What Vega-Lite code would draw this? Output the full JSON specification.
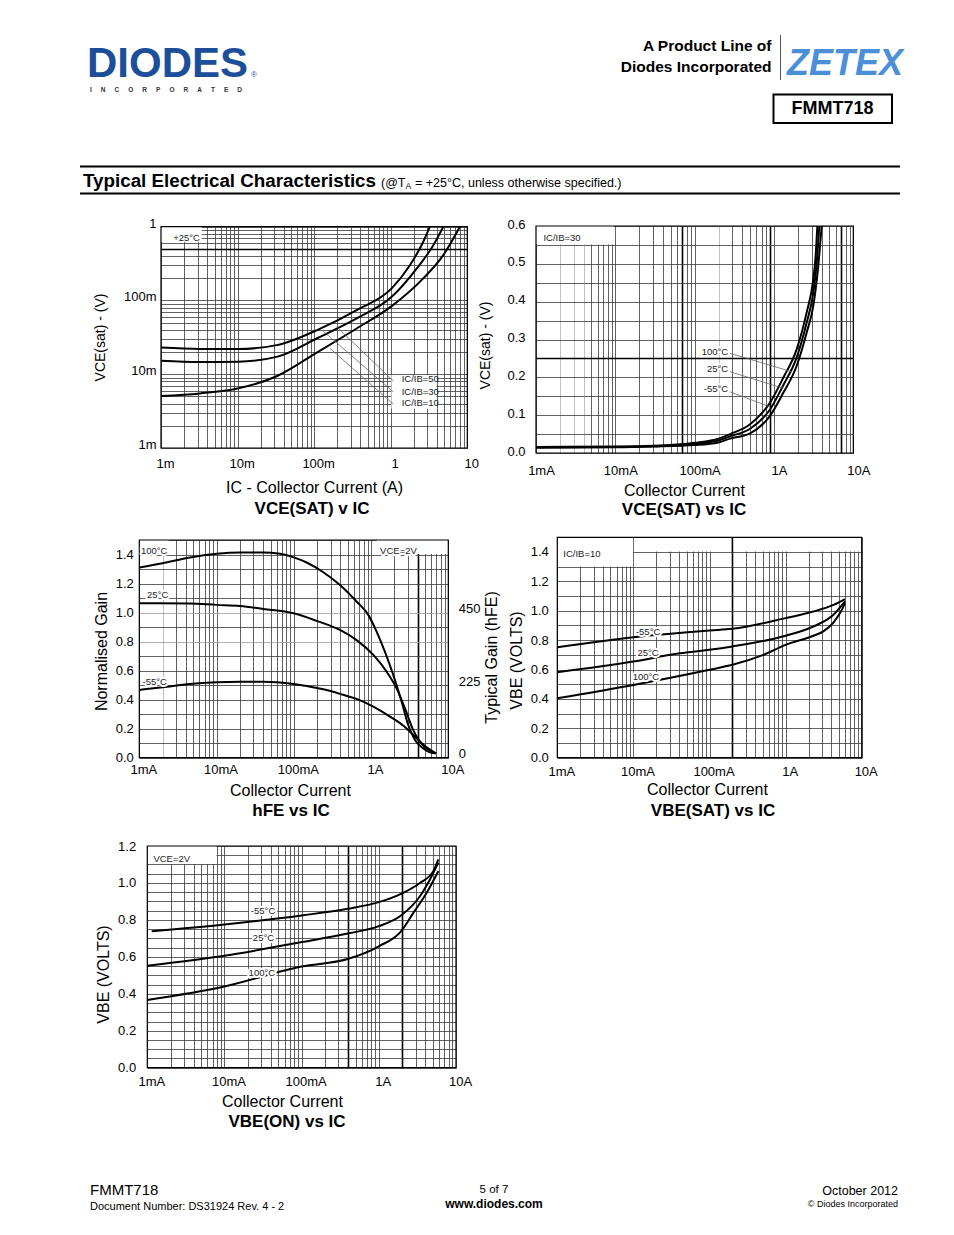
{
"$schema": "https://vega.github.io/schema/vega-lite/v6.json",
"width": 954, "height": 1235,
"autosize": {"type": "none"},
"padding": 0,
"background": "white",
"config": {
  "view": {"stroke": null},
  "font": "Liberation Sans",
  "axis": {"labelFont": "Liberation Sans", "titleFont": "Liberation Sans", "labelColor": "black", "titleColor": "black", "ticks": false, "domain": false, "gridColor": "#3a3a3a", "gridWidth": 0.8, "gridOpacity": 1, "labelOverlap": false, "labelFlush": false, "labelBound": false, "labelFontSize": 13, "titleFontSize": 16, "titleFontWeight": "normal", "titleBaseline": "middle", "titleAlign": "center"}
},
"data": {"values": [{}]},
"datasets": {
  "c1": [
    {"s":"50","I":0.001,"V":0.023},{"s":"50","I":0.00323,"V":0.022},{"s":"50","I":0.01,"V":0.022},{"s":"50","I":0.0324,"V":0.0248},{"s":"50","I":0.111,"V":0.040},{"s":"50","I":0.359,"V":0.074},{"s":"50","I":1.03,"V":0.146},{"s":"50","I":1.78,"V":0.30},{"s":"50","I":2.66,"V":0.625},{"s":"50","I":3.25,"V":1.0},
    {"s":"30","I":0.001,"V":0.0152},{"s":"30","I":0.00323,"V":0.0146},{"s":"30","I":0.01,"V":0.0148},{"s":"30","I":0.0324,"V":0.0172},{"s":"30","I":0.111,"V":0.031},{"s":"30","I":0.359,"V":0.057},{"s":"30","I":1.03,"V":0.112},{"s":"30","I":2.18,"V":0.27},{"s":"30","I":3.6,"V":0.56},{"s":"30","I":4.86,"V":1.0},
    {"s":"10","I":0.001,"V":0.00508},{"s":"10","I":0.00323,"V":0.0055},{"s":"10","I":0.01,"V":0.0064},{"s":"10","I":0.0324,"V":0.0094},{"s":"10","I":0.111,"V":0.020},{"s":"10","I":0.359,"V":0.0417},{"s":"10","I":1.03,"V":0.0838},{"s":"10","I":2.66,"V":0.199},{"s":"10","I":4.86,"V":0.412},{"s":"10","I":8.0,"V":1.0}
  ],
  "c2": [
    {"s":"100","I":0.001,"V":0.016},{"s":"100","I":0.01,"V":0.017},{"s":"100","I":0.03,"V":0.019},{"s":"100","I":0.1,"V":0.027},{"s":"100","I":0.2,"V":0.038},{"s":"100","I":0.28,"V":0.05},{"s":"100","I":0.5,"V":0.076},{"s":"100","I":0.89,"V":0.133},{"s":"100","I":1.31,"V":0.199},{"s":"100","I":1.93,"V":0.274},{"s":"100","I":2.58,"V":0.371},{"s":"100","I":3.13,"V":0.459},{"s":"100","I":3.35,"V":0.52},{"s":"100","I":3.52,"V":0.6},
    {"s":"25","I":0.001,"V":0.015},{"s":"25","I":0.01,"V":0.016},{"s":"25","I":0.03,"V":0.018},{"s":"25","I":0.1,"V":0.024},{"s":"25","I":0.2,"V":0.033},{"s":"25","I":0.28,"V":0.044},{"s":"25","I":0.5,"V":0.064},{"s":"25","I":0.89,"V":0.115},{"s":"25","I":1.31,"V":0.179},{"s":"25","I":1.93,"V":0.252},{"s":"25","I":2.58,"V":0.344},{"s":"25","I":3.13,"V":0.424},{"s":"25","I":3.45,"V":0.5},{"s":"25","I":3.73,"V":0.6},
    {"s":"-55","I":0.001,"V":0.014},{"s":"-55","I":0.01,"V":0.015},{"s":"-55","I":0.03,"V":0.017},{"s":"-55","I":0.1,"V":0.021},{"s":"-55","I":0.2,"V":0.028},{"s":"-55","I":0.28,"V":0.038},{"s":"-55","I":0.5,"V":0.052},{"s":"-55","I":0.89,"V":0.098},{"s":"-55","I":1.31,"V":0.159},{"s":"-55","I":1.93,"V":0.23},{"s":"-55","I":2.58,"V":0.318},{"s":"-55","I":3.13,"V":0.389},{"s":"-55","I":3.6,"V":0.49},{"s":"-55","I":3.99,"V":0.6}
  ],
  "c3": [
    {"s":"100","I":0.001,"V":1.31},{"s":"100","I":0.002,"V":1.34},{"s":"100","I":0.00453,"V":1.38},{"s":"100","I":0.01,"V":1.405},{"s":"100","I":0.0201,"V":1.414},{"s":"100","I":0.0403,"V":1.414},{"s":"100","I":0.0662,"V":1.405},{"s":"100","I":0.0995,"V":1.38},{"s":"100","I":0.1466,"V":1.345},{"s":"100","I":0.241,"V":1.278},{"s":"100","I":0.396,"V":1.19},{"s":"100","I":0.65,"V":1.076},{"s":"100","I":0.92,"V":0.984},{"s":"100","I":1.18,"V":0.869},{"s":"100","I":1.51,"V":0.731},{"s":"100","I":1.94,"V":0.57},{"s":"100","I":2.49,"V":0.386},{"s":"100","I":3.03,"V":0.225},{"s":"100","I":3.7,"V":0.122},{"s":"100","I":4.75,"V":0.064},{"s":"100","I":5.79,"V":0.037},{"s":"100","I":6.92,"V":0.03},
    {"s":"25","I":0.001,"V":1.064},{"s":"25","I":0.00453,"V":1.062},{"s":"25","I":0.01,"V":1.053},{"s":"25","I":0.0201,"V":1.046},{"s":"25","I":0.0403,"V":1.025},{"s":"25","I":0.0995,"V":0.995},{"s":"25","I":0.1977,"V":0.943},{"s":"25","I":0.396,"V":0.88},{"s":"25","I":0.65,"V":0.81},{"s":"25","I":1.07,"V":0.708},{"s":"25","I":1.59,"V":0.593},{"s":"25","I":2.14,"V":0.478},{"s":"25","I":2.75,"V":0.34},{"s":"25","I":3.52,"V":0.19},{"s":"25","I":4.3,"V":0.11},{"s":"25","I":5.24,"V":0.064},{"s":"25","I":6.92,"V":0.03},
    {"s":"-55","I":0.001,"V":0.467},{"s":"-55","I":0.002,"V":0.485},{"s":"-55","I":0.00453,"V":0.508},{"s":"-55","I":0.01,"V":0.52},{"s":"-55","I":0.0201,"V":0.524},{"s":"-55","I":0.0403,"V":0.524},{"s":"-55","I":0.0995,"V":0.508},{"s":"-55","I":0.241,"V":0.471},{"s":"-55","I":0.396,"V":0.44},{"s":"-55","I":0.65,"V":0.405},{"s":"-55","I":1.07,"V":0.352},{"s":"-55","I":1.76,"V":0.283},{"s":"-55","I":2.62,"V":0.22},{"s":"-55","I":3.35,"V":0.168},{"s":"-55","I":4.09,"V":0.122},{"s":"-55","I":5.24,"V":0.071},{"s":"-55","I":6.92,"V":0.03}
  ],
  "c4": [
    {"s":"-55","I":0.001,"V":0.752},{"s":"-55","I":0.01,"V":0.82},{"s":"-55","I":0.1,"V":0.866},{"s":"-55","I":0.2,"V":0.877},{"s":"-55","I":1.0,"V":0.95},{"s":"-55","I":2.32,"V":0.995},{"s":"-55","I":4.25,"V":1.04},{"s":"-55","I":6.04,"V":1.08},
    {"s":"25","I":0.001,"V":0.582},{"s":"25","I":0.01,"V":0.655},{"s":"25","I":0.041,"V":0.711},{"s":"25","I":0.1,"V":0.734},{"s":"25","I":0.2,"V":0.757},{"s":"25","I":1.0,"V":0.83},{"s":"25","I":2.32,"V":0.893},{"s":"25","I":4.25,"V":0.973},{"s":"25","I":6.04,"V":1.064},
    {"s":"100","I":0.001,"V":0.405},{"s":"100","I":0.01,"V":0.495},{"s":"100","I":0.1,"V":0.598},{"s":"100","I":0.2,"V":0.632},{"s":"100","I":0.51,"V":0.70},{"s":"100","I":1.0,"V":0.768},{"s":"100","I":2.32,"V":0.83},{"s":"100","I":3.13,"V":0.86},{"s":"100","I":4.25,"V":0.92},{"s":"100","I":5.19,"V":0.984},{"s":"100","I":6.04,"V":1.05}
  ],
  "c5": [
    {"s":"-55","I":0.00114,"V":0.738},{"s":"-55","I":0.01,"V":0.775},{"s":"-55","I":0.1,"V":0.824},{"s":"-55","I":0.394,"V":0.86},{"s":"-55","I":1.0,"V":0.896},{"s":"-55","I":1.94,"V":0.941},{"s":"-55","I":3.41,"V":1.0},{"s":"-55","I":5.08,"V":1.064},{"s":"-55","I":5.9,"V":1.128},
    {"s":"25","I":0.001,"V":0.552},{"s":"25","I":0.01,"V":0.606},{"s":"25","I":0.1,"V":0.68},{"s":"25","I":0.394,"V":0.726},{"s":"25","I":1.0,"V":0.766},{"s":"25","I":1.94,"V":0.824},{"s":"25","I":3.41,"V":0.928},{"s":"25","I":4.6,"V":1.019},{"s":"25","I":5.9,"V":1.11},
    {"s":"100","I":0.001,"V":0.367},{"s":"100","I":0.01,"V":0.44},{"s":"100","I":0.1,"V":0.548},{"s":"100","I":0.394,"V":0.588},{"s":"100","I":1.0,"V":0.657},{"s":"100","I":1.94,"V":0.738},{"s":"100","I":2.8,"V":0.838},{"s":"100","I":4.17,"V":0.947},{"s":"100","I":5.9,"V":1.064}
  ],
  "b1": [{"x1":0.001,"x2":0.0034,"y1":0.626,"y2":1},{"x1":1.02,"x2":3.97,"y1":0.0034,"y2":0.0098}],
  "b2": [{"x1":0.001,"x2":0.0095,"y1":0.551,"y2":0.6}],
  "b3": [{"x1":0.001,"x2":0.0024,"y1":1.403,"y2":1.5},{"x1":1.19,"x2":10,"y1":1.403,"y2":1.5}],
  "b4": [{"x1":0.001,"x2":0.0099,"y1":1.302,"y2":1.5},{"x1":0.0104,"x2":10,"y1":1.403,"y2":1.5}],
  "b5": [{"x1":0.001,"x2":0.0079,"y1":1.102,"y2":1.2}],
  "l1": [{"x1":0.197,"y1":0.044,"x2":1.08,"y2":0.0081},{"x1":0.131,"y1":0.0385,"x2":1.08,"y2":0.00577},{"x1":0.161,"y1":0.0224,"x2":1.08,"y2":0.00393}],
  "l2": [{"x1":0.278,"y1":0.2635,"x2":1.67,"y2":0.215},{"x1":0.278,"y1":0.215,"x2":1.31,"y2":0.171},{"x1":0.278,"y1":0.162,"x2":0.89,"y2":0.122}],
  "t1": [{"t":"+25°C","I":0.00144,"V":0.711},{"t":"IC/IB=50","I":1.39,"V":0.00857},{"t":"IC/IB=30","I":1.39,"V":0.00571},{"t":"IC/IB=10","I":1.39,"V":0.00405}],
  "t2L": [{"t":"IC/IB=30","I":0.00124,"V":0.567}],
  "t2R": [{"t":"100°C","I":0.265,"V":0.268},{"t":"25°C","I":0.265,"V":0.221},{"t":"-55°C","I":0.265,"V":0.169}],
  "t3": [{"t":"100°C","I":0.00105,"V":1.426},{"t":"25°C","I":0.00126,"V":1.121},{"t":"-55°C","I":0.0011,"V":0.524},{"t":"VCE=2V","I":1.31,"V":1.426}],
  "t4L": [{"t":"IC/IB=10","I":0.0012,"V":1.384}],
  "t4C": [{"t":"-55°C","I":0.0156,"V":0.855},{"t":"25°C","I":0.0156,"V":0.713},{"t":"100°C","I":0.0146,"V":0.549}],
  "t5L": [{"t":"VCE=2V","I":0.0012,"V":1.13}],
  "t5C": [{"t":"-55°C","I":0.0316,"V":0.85},{"t":"25°C","I":0.032,"V":0.704},{"t":"100°C","I":0.0305,"V":0.513}],
  "ext1": [{"I":0.001,"V":0.001},{"I":10,"V":1}],
  "ext2": [{"I":0.001,"V":0},{"I":10,"V":0.6}],
  "ext3": [{"I":0.001,"V":0},{"I":10,"V":1.5}],
  "ext5": [{"I":0.001,"V":0},{"I":10,"V":1.2}]
},
"resolve": {"scale": {"x": "independent", "y": "independent"}, "axis": {"x": "independent", "y": "independent"}},
"layer": [
  {"mark": {"type": "text", "text": "DIODES", "x": 87, "y": 77, "align": "left", "baseline": "alphabetic", "fontSize": 42, "fontWeight": "bold", "font": "Liberation Sans", "color": "#1c4e9a"}},
  {"mark": {"type": "text", "text": "®", "x": 251, "y": 77, "align": "left", "baseline": "alphabetic", "fontSize": 8, "color": "#1c4e9a"}},
  {"mark": {"type": "text", "text": "I\u00a0\u00a0\u00a0\u00a0\u00a0N\u00a0\u00a0\u00a0\u00a0\u00a0C\u00a0\u00a0\u00a0\u00a0\u00a0O\u00a0\u00a0\u00a0\u00a0\u00a0R\u00a0\u00a0\u00a0\u00a0\u00a0P\u00a0\u00a0\u00a0\u00a0\u00a0O\u00a0\u00a0\u00a0\u00a0\u00a0R\u00a0\u00a0\u00a0\u00a0\u00a0A\u00a0\u00a0\u00a0\u00a0\u00a0T\u00a0\u00a0\u00a0\u00a0\u00a0E\u00a0\u00a0\u00a0\u00a0\u00a0D", "x": 90, "y": 90, "align": "left", "baseline": "middle", "fontSize": 6.5, "fontWeight": "bold", "color": "#333"}},
  {"mark": {"type": "text", "text": "A Product Line of", "x": 771.5, "y": 51, "align": "right", "baseline": "alphabetic", "fontSize": 15.5, "fontWeight": "bold", "color": "black"}},
  {"mark": {"type": "text", "text": "Diodes Incorporated", "x": 771.5, "y": 72, "align": "right", "baseline": "alphabetic", "fontSize": 15.5, "fontWeight": "bold", "color": "black"}},
  {"mark": {"type": "rule", "color": "#555", "strokeWidth": 1}, "encoding": {"x": {"value": 780.5}, "y": {"value": 35}, "y2": {"value": 80}}},
  {"mark": {"type": "text", "text": "ZETEX", "x": 787, "y": 75, "align": "left", "baseline": "alphabetic", "fontSize": 36, "fontWeight": "bold", "fontStyle": "italic", "font": "Liberation Sans", "color": "#4b8fd8"}},
  {"mark": {"type": "rect", "fill": "white", "stroke": "black", "strokeWidth": 2}, "encoding": {"x": {"value": 773.5}, "x2": {"value": 892}, "y": {"value": 94.5}, "y2": {"value": 123}}},
  {"mark": {"type": "text", "text": "FMMT718", "x": 832.5, "y": 109, "align": "center", "baseline": "middle", "fontSize": 18, "fontWeight": "bold", "color": "black"}},
  {"mark": {"type": "rule", "color": "black", "strokeWidth": 2}, "encoding": {"x": {"value": 80}, "x2": {"value": 900}, "y": {"value": 166.5}}},
  {"mark": {"type": "rule", "color": "black", "strokeWidth": 2}, "encoding": {"x": {"value": 80}, "x2": {"value": 900}, "y": {"value": 193.5}}},
  {"mark": {"type": "text", "text": "Typical Electrical Characteristics", "x": 83, "y": 187, "align": "left", "baseline": "alphabetic", "fontSize": 18.8, "fontWeight": "bold", "color": "black"}},
  {"mark": {"type": "text", "text": "(@T", "x": 381, "y": 187, "align": "left", "baseline": "alphabetic", "fontSize": 12.5, "color": "black"}},
  {"mark": {"type": "text", "text": "A", "x": 405.5, "y": 189, "align": "left", "baseline": "alphabetic", "fontSize": 8.5, "color": "black"}},
  {"mark": {"type": "text", "text": "= +25°C, unless otherwise specified.)", "x": 415, "y": 187, "align": "left", "baseline": "alphabetic", "fontSize": 12.5, "color": "black"}},
  {"mark": {"type": "text", "text": "FMMT718", "x": 90, "y": 1195, "align": "left", "baseline": "alphabetic", "fontSize": 15, "color": "black"}},
  {"mark": {"type": "text", "text": "Document Number:  DS31924 Rev. 4 - 2", "x": 90, "y": 1210, "align": "left", "baseline": "alphabetic", "fontSize": 11, "color": "black"}},
  {"mark": {"type": "text", "text": "5 of 7", "x": 494, "y": 1193, "align": "center", "baseline": "alphabetic", "fontSize": 11.5, "color": "black"}},
  {"mark": {"type": "text", "text": "www.diodes.com", "x": 494, "y": 1208, "align": "center", "baseline": "alphabetic", "fontSize": 12, "fontWeight": "bold", "color": "black"}},
  {"mark": {"type": "text", "text": "October 2012", "x": 898, "y": 1195, "align": "right", "baseline": "alphabetic", "fontSize": 12.5, "color": "black"}},
  {"mark": {"type": "text", "text": "© Diodes Incorporated", "x": 898, "y": 1207, "align": "right", "baseline": "alphabetic", "fontSize": 9, "color": "black"}},
  {"mark": {"type": "text", "text": "VCE(SAT) v IC", "x": 312, "y": 509, "align": "center", "baseline": "middle", "fontSize": 17, "fontWeight": "bold", "color": "black"}},
  {"mark": {"type": "text", "text": "VCE(SAT) vs IC", "x": 684, "y": 510, "align": "center", "baseline": "middle", "fontSize": 17, "fontWeight": "bold", "color": "black"}},
  {"mark": {"type": "text", "text": "hFE vs IC", "x": 291, "y": 811, "align": "center", "baseline": "middle", "fontSize": 17, "fontWeight": "bold", "color": "black"}},
  {"mark": {"type": "text", "text": "VBE(SAT) vs IC", "x": 713, "y": 811, "align": "center", "baseline": "middle", "fontSize": 17, "fontWeight": "bold", "color": "black"}},
  {"mark": {"type": "text", "text": "VBE(ON) vs IC", "x": 287, "y": 1122, "align": "center", "baseline": "middle", "fontSize": 17, "fontWeight": "bold", "color": "black"}},

  {"data": {"name": "ext1"}, "mark": {"type": "point", "opacity": 0},
   "encoding": {
     "x": {"field": "I", "type": "quantitative", "scale": {"type": "log", "domain": [0.001, 10], "range": [161, 467.3], "nice": false},
           "axis": {"orient": "top", "offset": -448, "grid": true, "values": [0.001,0.002,0.003,0.004,0.005,0.006,0.007,0.008,0.009,0.01,0.02,0.03,0.04,0.05,0.06,0.07,0.08,0.09,0.1,0.2,0.3,0.4,0.5,0.6,0.7,0.8,0.9,1,2,3,4,5,6,7,8,9,10],
                    "labelExpr": "datum.value === 0.001 ? '1m' : datum.value === 0.01 ? '10m' : datum.value === 0.1 ? '100m' : datum.value === 1 ? '1' : datum.value === 10 ? '10' : ''",
                    "labelPadding": -15, "labelOffset": 4, "labelBaseline": "middle", "labelAlign": "center",
                    "title": "IC - Collector Current (A)", "titleX": 314, "titleY": 39, "titleAngle": 0}},
     "y": {"field": "V", "type": "quantitative", "scale": {"type": "log", "domain": [0.001, 1], "range": [448, 226.7], "nice": false},
           "axis": {"orient": "left", "offset": -161, "grid": true, "values": [0.001,0.002,0.003,0.004,0.005,0.006,0.007,0.008,0.009,0.01,0.02,0.03,0.04,0.05,0.06,0.07,0.08,0.09,0.1,0.2,0.3,0.4,0.5,0.6,0.7,0.8,0.9,1],
                    "labelExpr": "datum.value === 0.001 ? '1m' : datum.value === 0.01 ? '10m' : datum.value === 0.1 ? '100m' : datum.value === 1 ? '1' : ''",
                    "labelPadding": 5, "labelOffset": -3.5,
                    "gridColor": {"condition": {"test": "datum.value === 0.5", "value": "black"}, "value": "#3a3a3a"},
                    "gridWidth": {"condition": {"test": "datum.value === 0.5", "value": 1.6}, "value": 0.8},
                    "title": "VCE(sat) - (V)", "titleX": -61, "titleY": 337, "titleAngle": -90, "titleFontSize": 14}}}},
  {"layer": [
    {"data": {"name": "c1"}, "mark": {"type": "line", "color": "black", "strokeWidth": 2, "interpolate": "monotone"},
     "encoding": {
       "x": {"field": "I", "type": "quantitative", "scale": {"type": "log", "domain": [0.001, 10], "range": [161, 467.3], "nice": false}, "axis": null},
       "y": {"field": "V", "type": "quantitative", "scale": {"type": "log", "domain": [0.001, 1], "range": [448, 226.7], "nice": false}, "axis": null},
       "detail": {"field": "s"}}},
    {"data": {"name": "b1"}, "mark": {"type": "rect", "fill": "white"},
     "encoding": {"x": {"field": "x1", "type": "quantitative", "scale": {"type": "log", "domain": [0.001, 10], "range": [161, 467.3], "nice": false}, "axis": null}, "x2": {"field": "x2"},
                  "y": {"field": "y1", "type": "quantitative", "scale": {"type": "log", "domain": [0.001, 1], "range": [448, 226.7], "nice": false}, "axis": null}, "y2": {"field": "y2"}}},
    {"mark": {"type": "rect", "fillOpacity": 0, "stroke": "black", "strokeWidth": 1.2},
     "encoding": {"x": {"datum": 0.001, "type": "quantitative", "scale": {"type": "log", "domain": [0.001, 10], "range": [161, 467.3], "nice": false}, "axis": null}, "x2": {"datum": 10},
                  "y": {"datum": 0.001, "type": "quantitative", "scale": {"type": "log", "domain": [0.001, 1], "range": [448, 226.7], "nice": false}, "axis": null}, "y2": {"datum": 1}}},
    {"data": {"name": "l1"}, "mark": {"type": "rule", "color": "#666", "strokeWidth": 0.8},
     "encoding": {"x": {"field": "x1", "type": "quantitative", "scale": {"type": "log", "domain": [0.001, 10], "range": [161, 467.3], "nice": false}, "axis": null}, "x2": {"field": "x2"},
                  "y": {"field": "y1", "type": "quantitative", "scale": {"type": "log", "domain": [0.001, 1], "range": [448, 226.7], "nice": false}, "axis": null}, "y2": {"field": "y2"}}},
    {"data": {"name": "t1"}, "mark": {"type": "text", "align": "left", "baseline": "middle", "fontSize": 9.5, "color": "#222"},
     "encoding": {"x": {"field": "I", "type": "quantitative", "scale": {"type": "log", "domain": [0.001, 10], "range": [161, 467.3], "nice": false}, "axis": null},
                  "y": {"field": "V", "type": "quantitative", "scale": {"type": "log", "domain": [0.001, 1], "range": [448, 226.7], "nice": false}, "axis": null},
                  "text": {"field": "t"}}}
  ]},

  {"data": {"name": "ext2"}, "mark": {"type": "point", "opacity": 0},
   "encoding": {
     "x": {"field": "I", "type": "quantitative", "scale": {"type": "log", "domain": [0.001, 10], "range": [536, 853.3], "nice": false},
           "axis": {"orient": "top", "offset": -453, "grid": true, "values": [0.001,0.002,0.003,0.004,0.005,0.006,0.007,0.008,0.009,0.01,0.02,0.03,0.04,0.05,0.06,0.07,0.08,0.09,0.1,0.2,0.3,0.4,0.5,0.6,0.7,0.8,0.9,1,2,3,4,5,6,7,8,9,10],
                    "labelExpr": "datum.value === 0.001 ? '1mA' : datum.value === 0.01 ? '10mA' : datum.value === 0.1 ? '100mA' : datum.value === 1 ? '1A' : datum.value === 10 ? '10A' : ''",
                    "labelPadding": -17, "labelOffset": 5, "labelBaseline": "middle", "labelAlign": "center",
                    "gridColor": {"condition": [{"test": "datum.value === 0.07 || datum.value === 0.9 || datum.value === 7", "value": "black"}, {"test": "datum.value === 0.002 || datum.value === 0.003 || datum.value === 0.004 || datum.value === 0.2", "value": "#b0b0b0"}], "value": "#3a3a3a"},
                    "gridWidth": {"condition": {"test": "datum.value === 0.07 || datum.value === 0.9 || datum.value === 7", "value": 1.6}, "value": 0.8},
                    "title": "Collector Current", "titleX": 684, "titleY": 37, "titleAngle": 0}},
     "y": {"field": "V", "type": "quantitative", "scale": {"type": "linear", "domain": [0, 0.6], "range": [453, 226], "nice": false, "zero": false},
           "axis": {"orient": "left", "offset": -536, "grid": true, "values": [0,0.05,0.1,0.15,0.2,0.25,0.3,0.35,0.4,0.45,0.5,0.55,0.6],
                    "labelExpr": "abs(datum.value * 10 - round(datum.value * 10)) < 0.001 ? format(datum.value, '.1f') : ''",
                    "labelPadding": 11, "labelOffset": -2,
                    "gridColor": {"condition": {"test": "datum.value === 0.25", "value": "black"}, "value": "#3a3a3a"},
                    "gridWidth": {"condition": {"test": "datum.value === 0.25", "value": 1.6}, "value": 0.8},
                    "title": "VCE(sat) - (V)", "titleX": -51, "titleY": 345, "titleAngle": -90, "titleFontSize": 14}}}},
  {"layer": [
    {"data": {"name": "c2"}, "mark": {"type": "line", "color": "black", "strokeWidth": 2, "interpolate": "monotone"},
     "encoding": {
       "x": {"field": "I", "type": "quantitative", "scale": {"type": "log", "domain": [0.001, 10], "range": [536, 853.3], "nice": false}, "axis": null},
       "y": {"field": "V", "type": "quantitative", "scale": {"type": "linear", "domain": [0, 0.6], "range": [453, 226], "nice": false, "zero": false}, "axis": null},
       "detail": {"field": "s"}}},
    {"data": {"name": "b2"}, "mark": {"type": "rect", "fill": "white"},
     "encoding": {"x": {"field": "x1", "type": "quantitative", "scale": {"type": "log", "domain": [0.001, 10], "range": [536, 853.3], "nice": false}, "axis": null}, "x2": {"field": "x2"},
                  "y": {"field": "y1", "type": "quantitative", "scale": {"type": "linear", "domain": [0, 0.6], "range": [453, 226], "nice": false, "zero": false}, "axis": null}, "y2": {"field": "y2"}}},
    {"mark": {"type": "rect", "fillOpacity": 0, "stroke": "black", "strokeWidth": 1.2},
     "encoding": {"x": {"datum": 0.001, "type": "quantitative", "scale": {"type": "log", "domain": [0.001, 10], "range": [536, 853.3], "nice": false}, "axis": null}, "x2": {"datum": 10},
                  "y": {"datum": 0, "type": "quantitative", "scale": {"type": "linear", "domain": [0, 0.6], "range": [453, 226], "nice": false, "zero": false}, "axis": null}, "y2": {"datum": 0.6}}},
    {"data": {"name": "l2"}, "mark": {"type": "rule", "color": "#666", "strokeWidth": 0.8},
     "encoding": {"x": {"field": "x1", "type": "quantitative", "scale": {"type": "log", "domain": [0.001, 10], "range": [536, 853.3], "nice": false}, "axis": null}, "x2": {"field": "x2"},
                  "y": {"field": "y1", "type": "quantitative", "scale": {"type": "linear", "domain": [0, 0.6], "range": [453, 226], "nice": false, "zero": false}, "axis": null}, "y2": {"field": "y2"}}},
    {"data": {"name": "t2L"}, "mark": {"type": "text", "align": "left", "baseline": "middle", "fontSize": 9.5, "color": "#222"},
     "encoding": {"x": {"field": "I", "type": "quantitative", "scale": {"type": "log", "domain": [0.001, 10], "range": [536, 853.3], "nice": false}, "axis": null},
                  "y": {"field": "V", "type": "quantitative", "scale": {"type": "linear", "domain": [0, 0.6], "range": [453, 226], "nice": false, "zero": false}, "axis": null},
                  "text": {"field": "t"}}},
    {"data": {"name": "t2R"}, "mark": {"type": "text", "align": "right", "baseline": "middle", "fontSize": 9.5, "fill": "white", "stroke": "white", "strokeWidth": 4, "strokeJoin": "round"},
     "encoding": {"x": {"field": "I", "type": "quantitative", "scale": {"type": "log", "domain": [0.001, 10], "range": [536, 853.3], "nice": false}, "axis": null},
                  "y": {"field": "V", "type": "quantitative", "scale": {"type": "linear", "domain": [0, 0.6], "range": [453, 226], "nice": false, "zero": false}, "axis": null},
                  "text": {"field": "t"}}},
    {"data": {"name": "t2R"}, "mark": {"type": "text", "align": "right", "baseline": "middle", "fontSize": 9.5, "color": "#222"},
     "encoding": {"x": {"field": "I", "type": "quantitative", "scale": {"type": "log", "domain": [0.001, 10], "range": [536, 853.3], "nice": false}, "axis": null},
                  "y": {"field": "V", "type": "quantitative", "scale": {"type": "linear", "domain": [0, 0.6], "range": [453, 226], "nice": false, "zero": false}, "axis": null},
                  "text": {"field": "t"}}}
  ]},

  {"data": {"name": "ext3"}, "mark": {"type": "point", "opacity": 0},
   "encoding": {
     "x": {"field": "I", "type": "quantitative", "scale": {"type": "log", "domain": [0.001, 10], "range": [139.3, 448.3], "nice": false},
           "axis": {"orient": "top", "offset": -757.7, "grid": true, "values": [0.001,0.002,0.003,0.004,0.005,0.006,0.007,0.008,0.009,0.01,0.02,0.03,0.04,0.05,0.06,0.07,0.08,0.09,0.1,0.2,0.3,0.4,0.5,0.6,0.7,0.8,0.9,1,2,3,4,5,6,7,8,9,10],
                    "labelExpr": "datum.value === 0.001 ? '1mA' : datum.value === 0.01 ? '10mA' : datum.value === 0.1 ? '100mA' : datum.value === 1 ? '1A' : datum.value === 10 ? '10A' : ''",
                    "labelPadding": -12, "labelOffset": 4, "labelBaseline": "middle", "labelAlign": "center",
                    "gridColor": {"condition": [{"test": "datum.value === 4", "value": "black"}, {"test": "datum.value === 0.002", "value": "#b0b0b0"}], "value": "#3a3a3a"},
                    "gridWidth": {"condition": {"test": "datum.value === 4", "value": 1.6}, "value": 0.8},
                    "title": "Collector Current", "titleX": 290, "titleY": 33, "titleAngle": 0}},
     "y": {"field": "V", "type": "quantitative", "scale": {"type": "linear", "domain": [0, 1.5], "range": [757.7, 540], "nice": false, "zero": false},
           "axis": {"orient": "left", "offset": -139.3, "grid": true, "values": [0,0.1,0.2,0.3,0.4,0.5,0.6,0.7,0.8,0.9,1,1.1,1.2,1.3,1.4,1.5],
                    "labelExpr": "abs(datum.value * 5 - round(datum.value * 5)) < 0.001 && datum.value < 1.45 ? format(datum.value, '.1f') : ''",
                    "labelPadding": 6, "labelOffset": 0,
                    "gridColor": {"condition": {"test": "datum.value === 1 || datum.value === 0.8", "value": "#9a9a9a"}, "value": "#3a3a3a"},
                    "title": "Normalised Gain", "titleX": -37.6, "titleY": 651, "titleAngle": -90}}}},
  {"layer": [
    {"data": {"name": "c3"}, "mark": {"type": "line", "color": "black", "strokeWidth": 2, "interpolate": "monotone"},
     "encoding": {
       "x": {"field": "I", "type": "quantitative", "scale": {"type": "log", "domain": [0.001, 10], "range": [139.3, 448.3], "nice": false}, "axis": null},
       "y": {"field": "V", "type": "quantitative", "scale": {"type": "linear", "domain": [0, 1.5], "range": [757.7, 540], "nice": false, "zero": false}, "axis": null},
       "detail": {"field": "s"}}},
    {"data": {"name": "b3"}, "mark": {"type": "rect", "fill": "white"},
     "encoding": {"x": {"field": "x1", "type": "quantitative", "scale": {"type": "log", "domain": [0.001, 10], "range": [139.3, 448.3], "nice": false}, "axis": null}, "x2": {"field": "x2"},
                  "y": {"field": "y1", "type": "quantitative", "scale": {"type": "linear", "domain": [0, 1.5], "range": [757.7, 540], "nice": false, "zero": false}, "axis": null}, "y2": {"field": "y2"}}},
    {"mark": {"type": "rect", "fillOpacity": 0, "stroke": "black", "strokeWidth": 1.2},
     "encoding": {"x": {"datum": 0.001, "type": "quantitative", "scale": {"type": "log", "domain": [0.001, 10], "range": [139.3, 448.3], "nice": false}, "axis": null}, "x2": {"datum": 10},
                  "y": {"datum": 0, "type": "quantitative", "scale": {"type": "linear", "domain": [0, 1.5], "range": [757.7, 540], "nice": false, "zero": false}, "axis": null}, "y2": {"datum": 1.5}}},
    {"data": {"name": "t3"}, "mark": {"type": "text", "align": "left", "baseline": "middle", "fontSize": 9.5, "fill": "white", "stroke": "white", "strokeWidth": 4, "strokeJoin": "round"},
     "encoding": {"x": {"field": "I", "type": "quantitative", "scale": {"type": "log", "domain": [0.001, 10], "range": [139.3, 448.3], "nice": false}, "axis": null},
                  "y": {"field": "V", "type": "quantitative", "scale": {"type": "linear", "domain": [0, 1.5], "range": [757.7, 540], "nice": false, "zero": false}, "axis": null},
                  "text": {"field": "t"}}},
    {"data": {"name": "t3"}, "mark": {"type": "text", "align": "left", "baseline": "middle", "fontSize": 9.5, "color": "#222"},
     "encoding": {"x": {"field": "I", "type": "quantitative", "scale": {"type": "log", "domain": [0.001, 10], "range": [139.3, 448.3], "nice": false}, "axis": null},
                  "y": {"field": "V", "type": "quantitative", "scale": {"type": "linear", "domain": [0, 1.5], "range": [757.7, 540], "nice": false, "zero": false}, "axis": null},
                  "text": {"field": "t"}}}
  ]},

  {"data": {"values": [{"hFE": 0}, {"hFE": 450}]},
   "mark": {"type": "point", "opacity": 0},
   "encoding": {"y": {"field": "hFE", "type": "quantitative", "scale": {"type": "linear", "domain": [0, 675], "range": [757.7, 540], "nice": false, "zero": false},
                      "axis": {"orient": "right", "offset": -505.7, "values": [0, 225, 450], "grid": false, "labelPadding": 10, "labelAlign": "left", "labelOffset": -4,
                               "title": "Typical Gain  (hFE)", "titleX": 42.7, "titleY": 657, "titleAngle": -90}}}},

  {"data": {"name": "ext3"}, "mark": {"type": "point", "opacity": 0},
   "encoding": {
     "x": {"field": "I", "type": "quantitative", "scale": {"type": "log", "domain": [0.001, 10], "range": [557.3, 861.7], "nice": false},
           "axis": {"orient": "top", "offset": -757.7, "grid": true, "values": [0.001,0.002,0.003,0.004,0.005,0.006,0.007,0.008,0.009,0.01,0.02,0.03,0.04,0.05,0.06,0.07,0.08,0.09,0.1,0.2,0.3,0.4,0.5,0.6,0.7,0.8,0.9,1,2,3,4,5,6,7,8,9,10],
                    "labelExpr": "datum.value === 0.001 ? '1mA' : datum.value === 0.01 ? '10mA' : datum.value === 0.1 ? '100mA' : datum.value === 1 ? '1A' : datum.value === 10 ? '10A' : ''",
                    "labelPadding": -14, "labelOffset": 4, "labelBaseline": "middle", "labelAlign": "center",
                    "gridColor": {"condition": {"test": "datum.value === 0.2", "value": "black"}, "value": "#3a3a3a"},
                    "gridWidth": {"condition": {"test": "datum.value === 0.2", "value": 1.6}, "value": 0.8},
                    "title": "Collector Current", "titleX": 707, "titleY": 31.6, "titleAngle": 0}},
     "y": {"field": "V", "type": "quantitative", "scale": {"type": "linear", "domain": [0, 1.5], "range": [757.7, 537.3], "nice": false, "zero": false},
           "axis": {"orient": "left", "offset": -557.3, "grid": true, "values": [0,0.1,0.2,0.3,0.4,0.5,0.6,0.7,0.8,0.9,1,1.1,1.2,1.3,1.4,1.5],
                    "labelExpr": "abs(datum.value * 5 - round(datum.value * 5)) < 0.001 && datum.value < 1.45 ? format(datum.value, '.1f') : ''",
                    "labelPadding": 9, "labelOffset": 0,
                    "title": "VBE  (VOLTS)", "titleX": -40.6, "titleY": 660, "titleAngle": -90}}}},
  {"layer": [
    {"data": {"name": "c4"}, "mark": {"type": "line", "color": "black", "strokeWidth": 2, "interpolate": "monotone"},
     "encoding": {
       "x": {"field": "I", "type": "quantitative", "scale": {"type": "log", "domain": [0.001, 10], "range": [557.3, 861.7], "nice": false}, "axis": null},
       "y": {"field": "V", "type": "quantitative", "scale": {"type": "linear", "domain": [0, 1.5], "range": [757.7, 537.3], "nice": false, "zero": false}, "axis": null},
       "detail": {"field": "s"}}},
    {"data": {"name": "b4"}, "mark": {"type": "rect", "fill": "white"},
     "encoding": {"x": {"field": "x1", "type": "quantitative", "scale": {"type": "log", "domain": [0.001, 10], "range": [557.3, 861.7], "nice": false}, "axis": null}, "x2": {"field": "x2"},
                  "y": {"field": "y1", "type": "quantitative", "scale": {"type": "linear", "domain": [0, 1.5], "range": [757.7, 537.3], "nice": false, "zero": false}, "axis": null}, "y2": {"field": "y2"}}},
    {"mark": {"type": "rule", "color": "black", "strokeWidth": 1.6},
     "encoding": {"x": {"datum": 0.2, "type": "quantitative", "scale": {"type": "log", "domain": [0.001, 10], "range": [557.3, 861.7], "nice": false}, "axis": null},
                  "y": {"datum": 1.4, "type": "quantitative", "scale": {"type": "linear", "domain": [0, 1.5], "range": [757.7, 537.3], "nice": false, "zero": false}, "axis": null}, "y2": {"datum": 1.5}}},
    {"mark": {"type": "rect", "fillOpacity": 0, "stroke": "black", "strokeWidth": 1.2},
     "encoding": {"x": {"datum": 0.001, "type": "quantitative", "scale": {"type": "log", "domain": [0.001, 10], "range": [557.3, 861.7], "nice": false}, "axis": null}, "x2": {"datum": 10},
                  "y": {"datum": 0, "type": "quantitative", "scale": {"type": "linear", "domain": [0, 1.5], "range": [757.7, 537.3], "nice": false, "zero": false}, "axis": null}, "y2": {"datum": 1.5}}},
    {"data": {"name": "t4L"}, "mark": {"type": "text", "align": "left", "baseline": "middle", "fontSize": 9.5, "color": "#222"},
     "encoding": {"x": {"field": "I", "type": "quantitative", "scale": {"type": "log", "domain": [0.001, 10], "range": [557.3, 861.7], "nice": false}, "axis": null},
                  "y": {"field": "V", "type": "quantitative", "scale": {"type": "linear", "domain": [0, 1.5], "range": [757.7, 537.3], "nice": false, "zero": false}, "axis": null},
                  "text": {"field": "t"}}},
    {"data": {"name": "t4C"}, "mark": {"type": "text", "align": "center", "baseline": "middle", "fontSize": 9.5, "fill": "white", "stroke": "white", "strokeWidth": 4, "strokeJoin": "round"},
     "encoding": {"x": {"field": "I", "type": "quantitative", "scale": {"type": "log", "domain": [0.001, 10], "range": [557.3, 861.7], "nice": false}, "axis": null},
                  "y": {"field": "V", "type": "quantitative", "scale": {"type": "linear", "domain": [0, 1.5], "range": [757.7, 537.3], "nice": false, "zero": false}, "axis": null},
                  "text": {"field": "t"}}},
    {"data": {"name": "t4C"}, "mark": {"type": "text", "align": "center", "baseline": "middle", "fontSize": 9.5, "color": "#222"},
     "encoding": {"x": {"field": "I", "type": "quantitative", "scale": {"type": "log", "domain": [0.001, 10], "range": [557.3, 861.7], "nice": false}, "axis": null},
                  "y": {"field": "V", "type": "quantitative", "scale": {"type": "linear", "domain": [0, 1.5], "range": [757.7, 537.3], "nice": false, "zero": false}, "axis": null},
                  "text": {"field": "t"}}}
  ]},

  {"data": {"name": "ext5"}, "mark": {"type": "point", "opacity": 0},
   "encoding": {
     "x": {"field": "I", "type": "quantitative", "scale": {"type": "log", "domain": [0.001, 10], "range": [147.3, 456], "nice": false},
           "axis": {"orient": "top", "offset": -1067.7, "grid": true, "values": [0.001,0.002,0.003,0.004,0.005,0.006,0.007,0.008,0.009,0.01,0.02,0.03,0.04,0.05,0.06,0.07,0.08,0.09,0.1,0.2,0.3,0.4,0.5,0.6,0.7,0.8,0.9,1,2,3,4,5,6,7,8,9,10],
                    "labelExpr": "datum.value === 0.001 ? '1mA' : datum.value === 0.01 ? '10mA' : datum.value === 0.1 ? '100mA' : datum.value === 1 ? '1A' : datum.value === 10 ? '10A' : ''",
                    "labelPadding": -14, "labelOffset": 4, "labelBaseline": "middle", "labelAlign": "center",
                    "gridColor": {"condition": {"test": "datum.value === 0.4 || datum.value === 2", "value": "black"}, "value": "#3a3a3a"},
                    "gridWidth": {"condition": {"test": "datum.value === 0.4 || datum.value === 2", "value": 1.6}, "value": 0.8},
                    "title": "Collector Current", "titleX": 282, "titleY": 34, "titleAngle": 0}},
     "y": {"field": "V", "type": "quantitative", "scale": {"type": "linear", "domain": [0, 1.2], "range": [1067.7, 846], "nice": false, "zero": false},
           "axis": {"orient": "left", "offset": -147.3, "grid": true, "values": [0,0.05,0.1,0.15,0.2,0.25,0.3,0.35,0.4,0.45,0.5,0.55,0.6,0.65,0.7,0.75,0.8,0.85,0.9,0.95,1,1.05,1.1,1.15,1.2],
                    "labelExpr": "abs(datum.value * 5 - round(datum.value * 5)) < 0.001 ? format(datum.value, '.1f') : ''",
                    "labelPadding": 11.6, "labelOffset": 0,
                    "title": "VBE  (VOLTS)", "titleX": -44.3, "titleY": 974, "titleAngle": -90}}}},
  {"layer": [
    {"data": {"name": "c5"}, "mark": {"type": "line", "color": "black", "strokeWidth": 2, "interpolate": "monotone"},
     "encoding": {
       "x": {"field": "I", "type": "quantitative", "scale": {"type": "log", "domain": [0.001, 10], "range": [147.3, 456], "nice": false}, "axis": null},
       "y": {"field": "V", "type": "quantitative", "scale": {"type": "linear", "domain": [0, 1.2], "range": [1067.7, 846], "nice": false, "zero": false}, "axis": null},
       "detail": {"field": "s"}}},
    {"data": {"name": "b5"}, "mark": {"type": "rect", "fill": "white"},
     "encoding": {"x": {"field": "x1", "type": "quantitative", "scale": {"type": "log", "domain": [0.001, 10], "range": [147.3, 456], "nice": false}, "axis": null}, "x2": {"field": "x2"},
                  "y": {"field": "y1", "type": "quantitative", "scale": {"type": "linear", "domain": [0, 1.2], "range": [1067.7, 846], "nice": false, "zero": false}, "axis": null}, "y2": {"field": "y2"}}},
    {"mark": {"type": "rect", "fillOpacity": 0, "stroke": "black", "strokeWidth": 1.2},
     "encoding": {"x": {"datum": 0.001, "type": "quantitative", "scale": {"type": "log", "domain": [0.001, 10], "range": [147.3, 456], "nice": false}, "axis": null}, "x2": {"datum": 10},
                  "y": {"datum": 0, "type": "quantitative", "scale": {"type": "linear", "domain": [0, 1.2], "range": [1067.7, 846], "nice": false, "zero": false}, "axis": null}, "y2": {"datum": 1.2}}},
    {"data": {"name": "t5L"}, "mark": {"type": "text", "align": "left", "baseline": "middle", "fontSize": 9.5, "color": "#222"},
     "encoding": {"x": {"field": "I", "type": "quantitative", "scale": {"type": "log", "domain": [0.001, 10], "range": [147.3, 456], "nice": false}, "axis": null},
                  "y": {"field": "V", "type": "quantitative", "scale": {"type": "linear", "domain": [0, 1.2], "range": [1067.7, 846], "nice": false, "zero": false}, "axis": null},
                  "text": {"field": "t"}}},
    {"data": {"name": "t5C"}, "mark": {"type": "text", "align": "center", "baseline": "middle", "fontSize": 9.5, "fill": "white", "stroke": "white", "strokeWidth": 4, "strokeJoin": "round"},
     "encoding": {"x": {"field": "I", "type": "quantitative", "scale": {"type": "log", "domain": [0.001, 10], "range": [147.3, 456], "nice": false}, "axis": null},
                  "y": {"field": "V", "type": "quantitative", "scale": {"type": "linear", "domain": [0, 1.2], "range": [1067.7, 846], "nice": false, "zero": false}, "axis": null},
                  "text": {"field": "t"}}},
    {"data": {"name": "t5C"}, "mark": {"type": "text", "align": "center", "baseline": "middle", "fontSize": 9.5, "color": "#222"},
     "encoding": {"x": {"field": "I", "type": "quantitative", "scale": {"type": "log", "domain": [0.001, 10], "range": [147.3, 456], "nice": false}, "axis": null},
                  "y": {"field": "V", "type": "quantitative", "scale": {"type": "linear", "domain": [0, 1.2], "range": [1067.7, 846], "nice": false, "zero": false}, "axis": null},
                  "text": {"field": "t"}}}
  ]}
]
}
